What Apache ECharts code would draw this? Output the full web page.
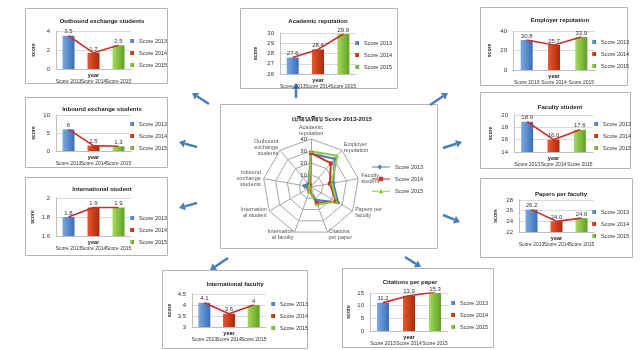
<!DOCTYPE html>
<html><head><meta charset="utf-8">
<script src="https://cdn.jsdelivr.net/npm/echarts@6/dist/echarts.min.js"></script>
<style>html,body{margin:0;padding:0;background:#fff}#c{width:640px;height:350px}</style>
</head><body><div id="c"></div>
<script>
// ---- data ----
const years = ['Score 2013', 'Score 2014', 'Score 2015'];
const outbound = [3.5, 1.7, 2.5];
const academic = [27.6, 28.4, 29.9];
const employer = [30.8, 25.7, 33.9];
const inbound = [6, 1.5, 1.3];
const facultyStudent = [18.9, 16.0, 17.6];
const intlStudent = [1.8, 1.9, 1.9];
const papers = [26.2, 24.0, 24.6];
const intlFaculty = [4.1, 3.6, 4];
const citations = [11.2, 13.9, 15.3];
const radarTitle = 'เปรียบเทียบ Score 2013-2015';
const radarMax = 40;

// ---- layout / styling ----
const FONT = 'Liberation Sans';
const barColors = [
  ['#7aaae3', '#3a6db5'],
  ['#e9572f', '#a92a0b'],
  ['#a6dc5a', '#5f9f25']
];
const lineColors = ['#4a7ebb', '#c0392b', '#8dc63f'];

const panels = [
  {title: 'Outbound exchange students', values: outbound, min: 0, max: 4, interval: 2, fixed: false,
   grid: {left: 56, top: 31, width: 75, height: 38}, frame: [25, 8, 142, 75], tpos: [97, 13], leg: [130, 38], ng: 20},
  {title: 'Academic reputation', values: academic, min: 26, max: 30, interval: 1, fixed: false,
   grid: {left: 280, top: 33, width: 76, height: 41}, frame: [240, 8, 157, 80], tpos: [313, 13], leg: [355, 40], ng: 22},
  {title: 'Employer reputation', values: employer, min: 0, max: 40, interval: 20, fixed: false,
   grid: {left: 513, top: 31, width: 82, height: 39}, frame: [480, 7, 147, 78], tpos: [555, 12], leg: [592, 39], ng: 21},
  {title: 'Inbound exchange students', values: inbound, min: 0, max: 10, interval: 5, fixed: false,
   grid: {left: 56, top: 115, width: 75, height: 36}, frame: [25, 97, 142, 70], tpos: [97, 101], leg: [130, 121], ng: 20},
  {title: 'Faculty student', values: facultyStudent, min: 14, max: 20, interval: 2, fixed: true,
   grid: {left: 514, top: 115, width: 79, height: 37}, frame: [480, 92, 150, 76], tpos: [555, 99], leg: [594, 121], ng: 21},
  {title: 'International student', values: intlStudent, min: 1.6, max: 2, interval: 0.2, fixed: false,
   grid: {left: 56, top: 198, width: 75, height: 38}, frame: [25, 177, 142, 78], tpos: [97, 181], leg: [130, 215], ng: 21},
  {title: 'Papers per faculty', values: papers, min: 22, max: 28, interval: 2, fixed: true,
   grid: {left: 519, top: 200, width: 75, height: 32}, frame: [480, 178, 152, 79], tpos: [556, 186], leg: [592, 209], ng: 21},
  {title: 'International faculty', values: intlFaculty, min: 3, max: 4.5, interval: 0.5, fixed: false,
   grid: {left: 192, top: 294, width: 74, height: 33}, frame: [162, 270, 145, 78], tpos: [230, 276], leg: [271, 301], ng: 20},
  {title: 'Citations per paper', values: citations, min: 0, max: 15, interval: 5, fixed: false,
   grid: {left: 370, top: 293, width: 78, height: 38}, frame: [342, 268, 151, 79], tpos: [405, 274], leg: [451, 300], ng: 19}
];

// radar axes in the library's (counter-clockwise) order, starting at the top
const radarAxes = [
  {name: 'Academic\nreputation', values: academic},
  {name: 'Outbound\nexchange\nstudents', values: outbound},
  {name: 'Inbound\nexchange\nstudents', values: inbound},
  {name: 'Internation\nal student', values: intlStudent},
  {name: 'Internation\nal faculty', values: intlFaculty},
  {name: 'Citations\nper paper', values: citations},
  {name: 'Papers per\nfaculty', values: papers},
  {name: 'Faculty\nstudent', values: facultyStudent},
  {name: 'Employer\nreputation', values: employer}
];

const option = {
  animation: false,
  backgroundColor: '#fff',
  textStyle: {fontFamily: FONT},
  title: [], grid: [], xAxis: [], yAxis: [], legend: [], series: [], graphic: []
};

panels.forEach((p, i) => {
  option.title.push({
    text: p.title, left: p.tpos[0], top: p.tpos[1], textAlign: 'center',
    textStyle: {fontSize: 6, fontWeight: 'bold', color: '#222', fontFamily: FONT}
  });
  option.grid.push(Object.assign({containLabel: false}, p.grid));
  option.xAxis.push({
    type: 'category', gridIndex: i, data: years,
    axisTick: {show: false},
    axisLine: {lineStyle: {color: '#bfbfbf'}},
    axisLabel: {fontSize: 5, color: '#333', margin: 10, interval: 0},
    name: 'year', nameLocation: 'middle', nameGap: 3, nameMoveOverlap: false,
    nameTextStyle: {fontSize: 5.5, fontWeight: 'bold', color: '#222'}
  });
  option.yAxis.push({
    type: 'value', gridIndex: i, min: p.min, max: p.max, interval: p.interval,
    axisLine: {show: true, lineStyle: {color: '#bfbfbf'}},
    axisTick: {show: false},
    axisLabel: {fontSize: 6, color: '#333', margin: 6},
    splitLine: {lineStyle: {color: '#d9d9d9'}},
    name: 'score', nameLocation: 'middle', nameRotate: 90, nameGap: p.ng, nameMoveOverlap: false,
    nameTextStyle: {fontSize: 5, fontWeight: 'bold', color: '#222'}
  });
  option.legend.push({
    orient: 'vertical', left: p.leg[0], top: p.leg[1],
    itemWidth: 4, itemHeight: 4, itemGap: 6, icon: 'rect',
    textStyle: {fontSize: 5.5, color: '#333'}, padding: 0,
    data: years
  });
  years.forEach((y, k) => {
    const d = years.map((_, j) => j === k ? p.values[k] : '-');
    option.series.push({
      type: 'bar', name: y, xAxisIndex: i, yAxisIndex: i, stack: 'p' + i,
      barWidth: 12, data: d,
      itemStyle: {
        color: new echarts.graphic.LinearGradient(0, 0, 1, 0, [
          {offset: 0, color: barColors[k][0]}, {offset: 1, color: barColors[k][1]}
        ])
      },
      label: {
        show: true, position: 'top', distance: 1, fontSize: 6, color: '#333',
        formatter: (o) => p.fixed ? Number(o.value).toFixed(1) : String(o.value)
      }
    });
  });
  option.series.push({
    type: 'line', name: 'trend', xAxisIndex: i, yAxisIndex: i, data: p.values,
    symbol: 'none', lineStyle: {color: '#c9302c', width: 1.6}, z: 5, silent: true
  });
  option.graphic.push({
    type: 'rect', shape: {x: p.frame[0] + 0.5, y: p.frame[1] + 0.5, width: p.frame[2], height: p.frame[3]},
    style: {fill: 'none', stroke: '#b5b5b5', lineWidth: 1}, z: -1
  });
});

// radar panel
option.title.push({
  text: radarTitle, left: 327, top: 111, textAlign: 'center',
  textStyle: {fontSize: 6, fontWeight: 'bold', color: '#222', fontFamily: FONT}
});
option.graphic.push({
  type: 'rect', shape: {x: 220.5, y: 104.5, width: 217, height: 144},
  style: {fill: 'none', stroke: '#b5b5b5', lineWidth: 1}, z: -1
});
option.radar = {
  center: [311, 187], radius: 48, startAngle: 90, shape: 'polygon',
  splitNumber: 4,
  indicator: radarAxes.map((a, i) => {
    const ind = {name: a.name, min: 0, max: radarMax};
    if (i === 0) ind.axisLabel = {show: true, fontSize: 6, color: '#333', margin: 4, align: 'right'};
    return ind;
  }),
  axisName: {fontSize: 5.5, color: '#555', lineHeight: 6},
  nameGap: 3,
  splitLine: {lineStyle: {color: '#a6a6a6', width: 1}},
  splitArea: {show: false},
  axisLine: {lineStyle: {color: '#a6a6a6'}},
  axisLabel: {show: false}
};
const radarSymbols = ['diamond', 'rect', 'triangle'];
option.series.push({
  type: 'radar',
  data: years.map((y, k) => ({
    name: 'Radar ' + y.slice(-4),
    value: radarAxes.map(a => a.values[k]),
    symbol: radarSymbols[k], symbolSize: 4,
    lineStyle: {color: lineColors[k], width: 2},
    itemStyle: {color: lineColors[k]}
  }))
});
const legIcons = [
  'path://M0,4.4H9V5.6H0Z M9,2L12,5L9,8L6,5Z M12,4.4H21V5.6H12Z',
  'path://M0,4.4H8V5.6H0Z M8,2.5H13V7.5H8Z M13,4.4H21V5.6H13Z',
  'path://M0,4.4H8V5.6H0Z M10.5,2L13.5,7.5H7.5Z M13,4.4H21V5.6H13Z'
];
option.legend.push({
  orient: 'vertical', left: 372, top: 164, itemWidth: 18, itemHeight: 5, itemGap: 6, padding: 0,
  textStyle: {fontSize: 5.5, color: '#333'},
  formatter: (n) => 'Score ' + n.slice(-4),
  data: years.map((y, k) => ({name: 'Radar ' + y.slice(-4), icon: legIcons[k]}))
});

// arrows (decoration)
const arrows = [
  [209, 104, 192, 93], [197, 147, 179, 142], [197, 203, 179, 208],
  [296, 98, 296, 83], [430, 105, 448, 93], [443, 148, 462, 142],
  [443, 215, 460, 222], [228, 258, 210, 270], [405, 257, 421, 267]
];
arrows.forEach(([x1, y1, x2, y2]) => {
  const a = Math.atan2(y2 - y1, x2 - x1);
  const hl = 6, hw = 4;
  const bx = x2 - hl * Math.cos(a), by = y2 - hl * Math.sin(a);
  const px = -Math.sin(a) * hw, py = Math.cos(a) * hw;
  option.graphic.push({type: 'line', shape: {x1, y1, x2: bx, y2: by}, style: {stroke: '#4a7ebb', lineWidth: 2.5}});
  option.graphic.push({type: 'polygon', shape: {points: [[x2, y2], [bx + px, by + py], [bx - px, by - py]]}, style: {fill: '#4a7ebb'}});
});

const chart = echarts.init(document.getElementById('c'), null, {renderer: 'canvas'});
chart.setOption(option);
</script>
</body></html>
